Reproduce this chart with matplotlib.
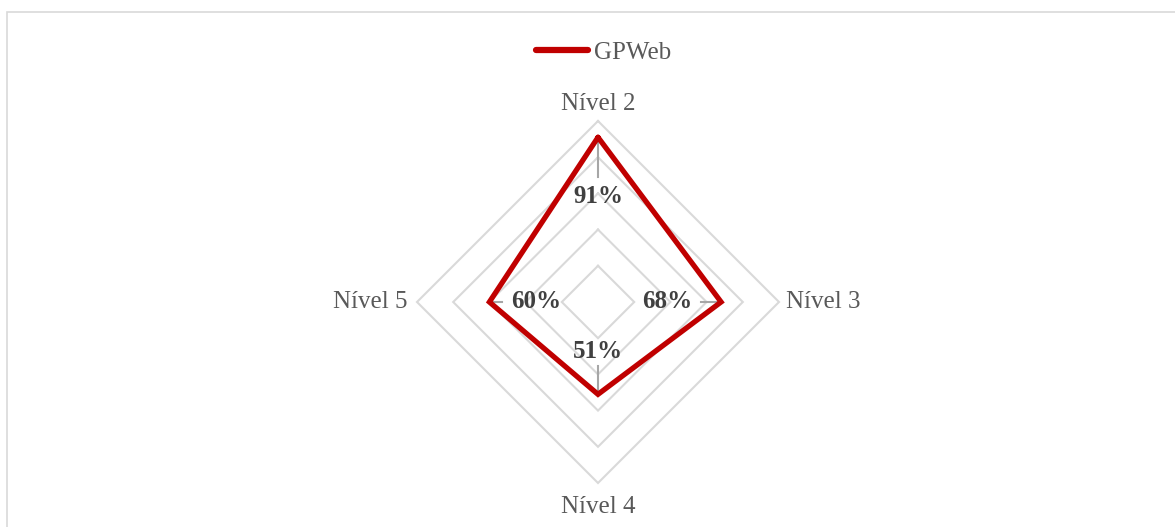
import numpy as np
import matplotlib
matplotlib.use("Agg")
import matplotlib.pyplot as plt
from matplotlib.patches import Rectangle
from matplotlib.lines import Line2D

# ---- data ----
categories = ["Nível 2", "Nível 3", "Nível 4", "Nível 5"]
values = [0.91, 0.68, 0.51, 0.60]
value_labels = ["91%", "68%", "51%", "60%"]
series_name = "GPWeb"
grid_levels = [0.2, 0.4, 0.6, 0.8, 1.0]

# ---- style ----
W, H, DPI = 1175, 527, 100
RED = "#C00000"
GRID = "#D9D9D9"
TXT = "#595959"
LBL = "#404040"
FONT = "Liberation Serif"
FS = 18
label_offset_px = [59, 54, 43, 47]   # inward offset of data labels
leader_px = [40, 20, 28, 13]         # leader line lengths

plt.rcParams["font.family"] = [FONT, "DejaVu Serif"]

fig = plt.figure(figsize=(W / DPI, H / DPI), dpi=DPI)
fig.patch.set_facecolor("white")

# chart-area border
fig.patches.append(Rectangle((7 / W, -0.05), 1.2, (H - 12) / H + 0.05,
                             transform=fig.transFigure, fill=False,
                             edgecolor=GRID, linewidth=1.2))

cx, cy, R = 598, H - 302, 181.0
ax_w, ax_h = 700, 450
ax = fig.add_axes([(cx - ax_w / 2) / W, (cy - ax_h / 2) / H, ax_w / W, ax_h / H])
ax.set_xlim(-ax_w / 2 / R, ax_w / 2 / R)
ax.set_ylim(-ax_h / 2 / R, ax_h / 2 / R)
ax.axis("off")

n = len(categories)
ang = np.pi / 2 - np.arange(n) * 2 * np.pi / n   # top, right, bottom, left
dx, dy = np.cos(ang), np.sin(ang)

# grid diamonds
for g in grid_levels:
    xs = np.append(g * dx, g * dx[0])
    ys = np.append(g * dy, g * dy[0])
    ax.plot(xs, ys, color=GRID, lw=1.5, zorder=1, solid_joinstyle="miter")

# series
v = np.array(values)
px, py = v * dx, v * dy
# leader lines
for i in range(n):
    L = leader_px[i] / R
    ax.plot([px[i], px[i] - L * dx[i]], [py[i], py[i] - L * dy[i]],
            color="#A6A6A6", lw=1.5, zorder=2)
ax.plot(np.append(px, px[0]), np.append(py, py[0]), color=RED, lw=3.8,
        zorder=3, solid_joinstyle="miter", solid_capstyle="round")

# data labels
for i in range(n):
    off = label_offset_px[i] / R
    ax.text(px[i] - off * dx[i], py[i] - off * dy[i], value_labels[i],
            ha="center", va="center", fontsize=FS, fontweight="bold",
            color=LBL, zorder=4)

# category labels
cat_pos = [(0, 1.095, "center", "center"), (1.04, 0, "left", "center"),
           (0, -1.135, "center", "center"), (-1.05, 0, "right", "center")]
for (x, y, ha, va), c in zip(cat_pos, categories):
    ax.text(x, y, c, ha=ha, va=va, fontsize=FS, color=TXT)

# legend
fig.lines.append(Line2D([536 / W, 588 / W], [(H - 50) / H] * 2,
                        transform=fig.transFigure, color=RED, lw=4.5,
                        solid_capstyle="round"))
fig.text(594 / W, (H - 53) / H, series_name, ha="left", va="center",
         fontsize=FS, color=TXT)

fig.savefig("out.png", dpi=DPI, facecolor="white")
